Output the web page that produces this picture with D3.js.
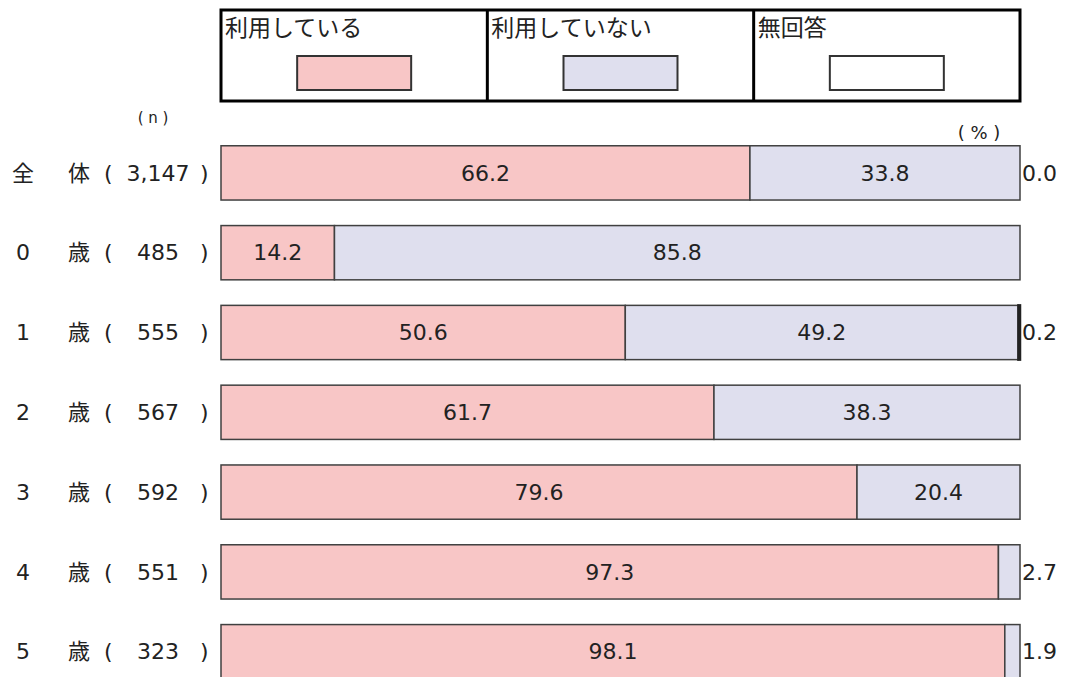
<!DOCTYPE html>
<html>
<head>
<meta charset="utf-8">
<script src="https://cdn.jsdelivr.net/npm/d3@7"></script>
<style>
  body { margin: 0; background: #fff; }
  text { fill: #222; }
  .num { font-family: "DejaVu Sans", sans-serif; font-size: 22px; }
  .jp { font-family: "Noto Sans CJK JP", sans-serif; font-size: 22px; }
</style>
</head>
<body>
<div id="chart"></div>
<script>
// data
const categories = ["全体", "0歳", "1歳", "2歳", "3歳", "4歳", "5歳"];
const counts = ["3,147", "485", "555", "567", "592", "551", "323"];
const seriesNames = ["利用している", "利用していない", "無回答"];
const using = [66.2, 14.2, 50.6, 61.7, 79.6, 97.3, 98.1];
const notUsing = [33.8, 85.8, 49.2, 38.3, 20.4, 2.7, 1.9];
const noAnswer = [0.0, 0.0, 0.2, 0.0, 0.0, 0.0, 0.0];
// which labels are printed (null = not shown)
const noAnswerLabels = ["0.0", null, "0.2", null, null, null, null];

const colors = ["#f8c6c6", "#dfdfee", "#ffffff"];
const width = 1066, height = 677;

const svg = d3.select('#chart')
    .append('svg')
    .attr('width', width)
    .attr('height', height);

// scales
const x = d3.scaleLinear().domain([0, 100]).range([221, 1020]);
const y = d3.scaleBand()
    .domain(categories)
    .range([133, 133 + 7 * 79.8])
    .paddingInner(0.32)
    .paddingOuter(0.16);

// legend box
const legendX = d3.scaleBand().domain(seriesNames).range([221, 1020]);
const legend = svg.append('g');
legend.append('rect')
    .attr('x', 221).attr('y', 10)
    .attr('width', 799).attr('height', 91)
    .attr('fill', 'none').attr('stroke', '#000').attr('stroke-width', 3);
legend.selectAll('line.div')
    .data(seriesNames.slice(1))
    .enter().append('line')
    .attr('x1', d => legendX(d)).attr('x2', d => legendX(d))
    .attr('y1', 10).attr('y2', 101)
    .attr('stroke', '#000').attr('stroke-width', 3);
legend.selectAll('text.lg')
    .data(seriesNames)
    .enter().append('text')
    .attr('class', 'jp')
    .attr('x', d => legendX(d) + 4)
    .attr('y', 36)
    .style('font-size', '23px')
    .text(d => d);
legend.selectAll('rect.sw')
    .data(seriesNames)
    .enter().append('rect')
    .attr('x', d => legendX(d) + legendX.bandwidth() / 2 - 57)
    .attr('y', 56)
    .attr('width', 114).attr('height', 34)
    .attr('fill', (d, i) => colors[i])
    .attr('stroke', '#333').attr('stroke-width', 2);

// (n) and (%)
svg.append('text').attr('class', 'num').attr('x', 153).attr('y', 123)
    .attr('text-anchor', 'middle').style('font-size', '15px').text('( n )');
svg.append('text').attr('class', 'num').attr('x', 979).attr('y', 139)
    .attr('text-anchor', 'middle').style('font-size', '18px').text('( % )');

// stacked segments
const rows = categories.map((c, i) => {
    const vals = [using[i], notUsing[i], noAnswer[i]];
    let acc = 0;
    return vals.map((v, k) => {
        const seg = {cat: c, k: k, v: v, x0: acc, x1: acc + v, row: i};
        acc += v;
        return seg;
    });
});

const rowG = svg.append('g').selectAll('g')
    .data(rows)
    .enter().append('g');

rowG.selectAll('rect')
    .data(d => d.filter(s => s.v > 0))
    .enter().append('rect')
    .attr('x', s => x(s.x0))
    .attr('y', s => y(s.cat))
    .attr('width', s => x(s.x1) - x(s.x0))
    .attr('height', y.bandwidth())
    .attr('fill', s => s.k === 2 ? '#222' : colors[s.k])
    .attr('stroke', s => s.k === 2 ? '#222' : '#404040')
    .attr('stroke-width', s => s.k === 2 ? 2.5 : 1.5);

// labels inside segments (wide enough), outside otherwise
rowG.selectAll('text.val')
    .data(d => d.filter(s => s.k < 2))
    .enter().append('text')
    .attr('class', 'num')
    .attr('x', s => (s.x1 - s.x0) > 5 ? x((s.x0 + s.x1) / 2) : x(100) + 2)
    .attr('text-anchor', s => (s.x1 - s.x0) > 5 ? 'middle' : 'start')
    .attr('y', s => y(s.cat) + y.bandwidth() / 2)
    .attr('dy', '0.35em')
    .text(s => s.v.toFixed(1));

svg.selectAll('text.na')
    .data(categories.filter((c, i) => noAnswerLabels[i] !== null))
    .enter().append('text')
    .attr('class', 'num')
    .attr('x', x(100) + 2)
    .attr('y', d => y(d) + y.bandwidth() / 2)
    .attr('dy', '0.35em')
    .text(d => noAnswerLabels[categories.indexOf(d)]);

// left labels
const lab = svg.append('g').selectAll('g')
    .data(categories)
    .enter().append('g')
    .attr('transform', d => `translate(0,${y(d) + y.bandwidth() / 2})`);
lab.append('text').attr('x', 23).attr('dy', '0.35em')
    .attr('class', (d, i) => i === 0 ? 'jp' : 'num')
    .attr('text-anchor', 'middle')
    .text(d => d[0]);
lab.append('text').attr('x', 68).attr('dy', '0.35em')
    .attr('class', 'jp')
    .text(d => d.slice(1));
lab.append('text').attr('x', 104).attr('dy', '0.35em')
    .attr('class', 'num').text('(');
lab.append('text').attr('x', 158).attr('dy', '0.35em')
    .attr('class', 'num').attr('text-anchor', 'middle')
    .text((d, i) => counts[i]);
lab.append('text').attr('x', 200).attr('dy', '0.35em')
    .attr('class', 'num').text(')');
</script>
</body>
</html>
